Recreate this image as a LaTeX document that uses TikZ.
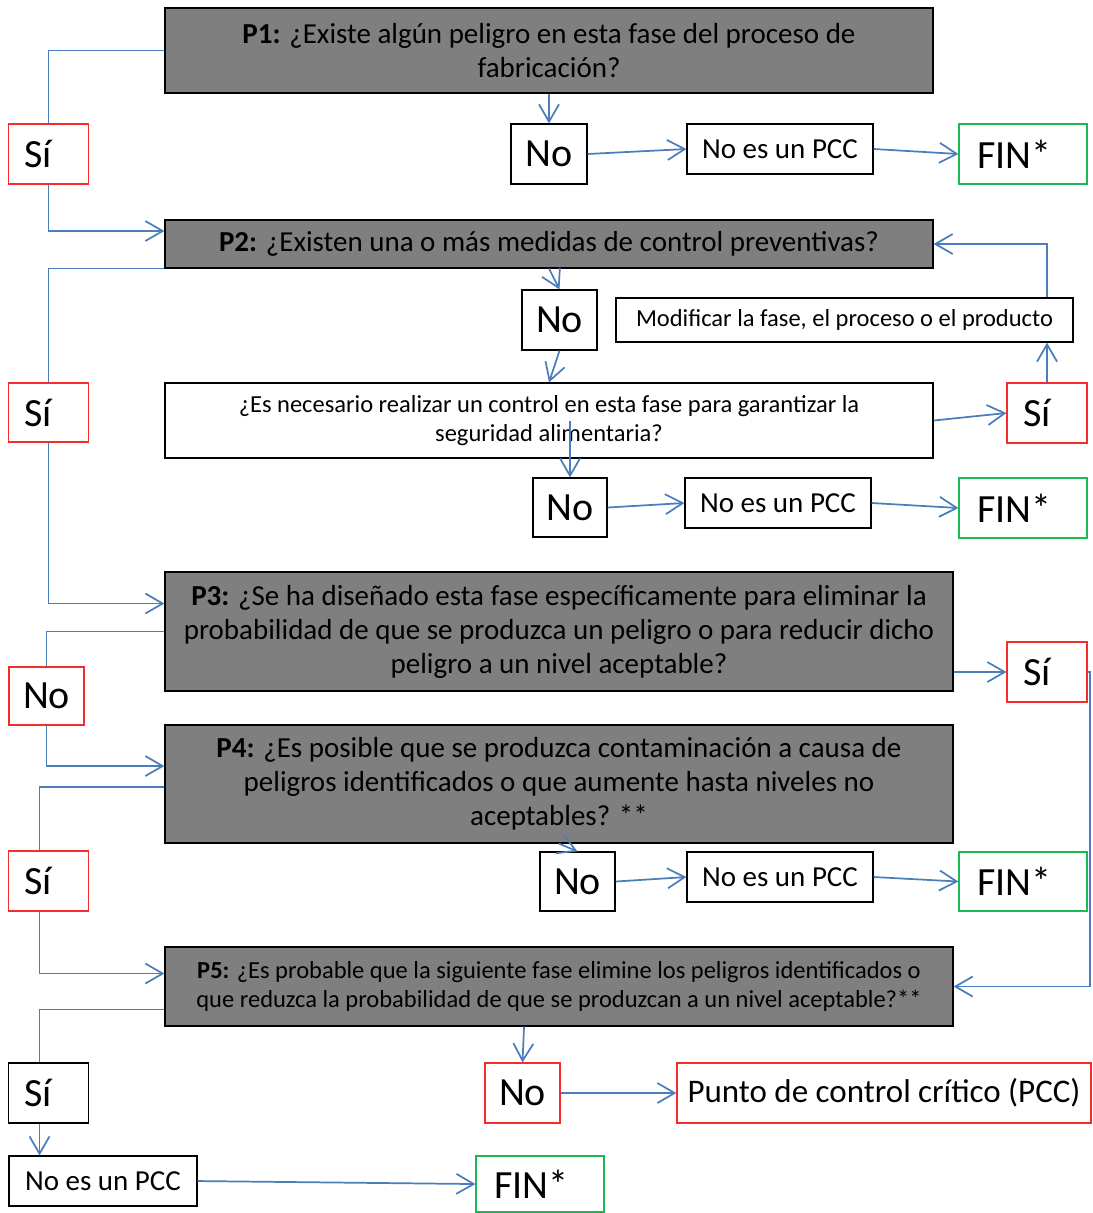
\documentclass[tikz,border=0pt]{standalone}
\usepackage{fontspec}
\setmainfont{Carlito}
\usetikzlibrary{arrows.meta}

\definecolor{linkblue}{HTML}{4A7EBB}
\definecolor{boxgray}{HTML}{7F7F7F}
\definecolor{yesred}{HTML}{F42C2C}
\definecolor{endgreen}{HTML}{1DB954}

\begin{document}
\begin{tikzpicture}[
        scale=0.75, transform shape, % coordinates below are in pixels
        x=1pt, y=-1pt,
        >={Straight Barb[length=13pt,width=15pt]},
        % gray question boxes
        qbox/.style={
            rectangle, draw=black, line width=1.2pt, fill=boxgray,
            align=center, inner sep=0pt,
            font=\fontsize{29}{34}\selectfont
        },
        % white boxes
        plainbox/.style={
            rectangle, draw=black, line width=1.2pt, fill=white,
            align=center, inner sep=0pt
        },
        yesbox/.style={plainbox, draw=yesred},
        endbox/.style={plainbox, draw=endgreen},
        big/.style={font=\fontsize{40}{46}\selectfont},
        mid/.style={font=\fontsize{29}{34}\selectfont},
        small/.style={font=\fontsize{24.5}{29}\selectfont},
        % left-set words in the small answer boxes
        sitext/.style={big, align=left, inner xsep=16pt, text width=48pt},
        fintext/.style={endbox, big, align=left, inner xsep=18pt, text width=92pt},
        link/.style={draw=linkblue, line width=1.3pt}
    ]

        \useasboundingbox (0,0) rectangle (1092,1213);

        % ==========================
        % P1
        % ==========================
        \node[qbox, minimum width=768pt, minimum height=85pt] (p1) at (549, 50.5)
            {\textbf{P1:} ¿Existe algún peligro en esta fase del proceso de\\fabricación?};
        \node[yesbox, sitext, minimum height=60pt] (si1)   at (48.5, 154) {Sí};
        \node[plainbox, big, minimum width=76pt, minimum height=60pt] (no1) at (549, 154)  {No};
        \node[plainbox, mid, minimum width=186pt, minimum height=50pt] (pcc1) at (780, 149) {No es un PCC};
        \node[fintext, minimum height=60pt] (fin1) at (1023, 154) {FIN*};

        \draw[link] (p1.west) -| (si1.north);
        \draw[link, ->] (p1.south) -- (no1.north);
        \draw[link, ->] (no1.east) -- (pcc1.west);
        \draw[link, ->] (pcc1.east) -- (fin1.west);

        % ==========================
        % P2
        % ==========================
        \node[qbox, minimum width=768pt, minimum height=48pt] (p2) at (549, 244)
            {\textbf{P2:} ¿Existen una o más medidas de control preventivas?};
        \node[plainbox, big, minimum width=75pt, minimum height=60pt] (no2) at (559.5, 320) {No};
        \node[plainbox, small, minimum width=457pt, minimum height=44pt] (mod) at (844.5, 320)
            {Modificar la fase, el proceso o el producto};
        \node[plainbox, small, minimum width=768pt, minimum height=75pt] (q) at (549, 420.5)
            {¿Es necesario realizar un control en esta fase para garantizar la\\seguridad alimentaria?};
        \node[yesbox, sitext, minimum height=59pt] (si2)   at (48.5, 412.5) {Sí};
        \node[yesbox, sitext, minimum height=60pt] (si2r)  at (1047, 413)  {Sí};
        \node[plainbox, big, minimum width=74pt, minimum height=59pt] (no3) at (570, 507.5) {No};
        \node[plainbox, mid, minimum width=186pt, minimum height=50pt] (pcc2) at (778, 503) {No es un PCC};
        \node[fintext, minimum height=60pt] (fin2) at (1023, 508) {FIN*};

        \draw[link, ->] (si1.south) |- ([yshift=13pt]p2.west);
        \draw[link] (p2.south west) -| (si2.north);
        \draw[link, ->] (p2.south) -- (no2.north);
        \draw[link, ->] (no2.south) -- (q.north);
        \draw[link, ->] (q.east) -- (si2r.west);
        \draw[link, ->] (si2r.north) -- (si2r.north |- mod.south);
        \draw[link, ->] (si2r.north |- mod.north) |- (p2.east);
        \draw[link, ->] (q.center -| no3.north) -- (no3.north);
        \draw[link, ->] (no3.east) -- (pcc2.west);
        \draw[link, ->] (pcc2.east) -- (fin2.west);

        % ==========================
        % P3
        % ==========================
        \node[qbox, minimum width=788pt, minimum height=119pt] (p3) at (559, 631.5)
            {\textbf{P3:} ¿Se ha diseñado esta fase específicamente para eliminar la\\
             probabilidad de que se produzca un peligro o para reducir dicho\\
             peligro a un nivel aceptable?};
        \node[yesbox, big, minimum width=75pt, minimum height=58pt] (no4) at (46.5, 696) {No};
        \node[yesbox, sitext, minimum height=60pt] (si3) at (1047, 672) {Sí};

        \draw[link, ->] (si2.south) |- ([yshift=28pt]p3.west);
        \draw[link] (p3.west) -| (no4.north);
        \draw[link, ->] (si3.west -| p3.east) -- (si3.west);

        % ==========================
        % P4
        % ==========================
        \node[qbox, minimum width=788pt, minimum height=118pt] (p4) at (559, 784)
            {\textbf{P4:} ¿Es posible que se produzca contaminación a causa de\\
             peligros identificados o que aumente hasta niveles no\\
             aceptables? **};
        \node[yesbox, sitext, minimum height=60pt] (si4)   at (48.5, 881) {Sí};
        \node[plainbox, big, minimum width=75pt, minimum height=59pt] (no5) at (577.5, 881.5) {No};
        \node[plainbox, mid, minimum width=186pt, minimum height=50pt] (pcc3) at (780, 877) {No es un PCC};
        \node[fintext, minimum height=59pt] (fin3) at (1023, 881.5) {FIN*};

        \draw[link, ->] (no4.south) |- ([yshift=18pt]p4.west);
        \draw[link] ([yshift=-3pt]p4.west) -| ([xshift=-9pt]si4.north);
        \draw[link, ->] (p4.south) -- (no5.north);
        \draw[link, ->] (no5.east) -- (pcc3.west);
        \draw[link, ->] (pcc3.east) -- (fin3.west);

        % ==========================
        % P5
        % ==========================
        \node[qbox, small, minimum width=788pt, minimum height=79pt] (p5) at (559, 986.5)
            {\textbf{P5:} ¿Es probable que la siguiente fase elimine los peligros identificados o\\
             que reduzca la probabilidad de que se produzcan a un nivel aceptable?**};
        \node[plainbox, sitext, minimum height=60pt] (si5) at (48.5, 1093) {Sí};
        \node[yesbox, big, minimum width=75pt, minimum height=60pt] (no6)   at (522.5, 1093) {No};
        \node[yesbox, font=\fontsize{33}{38}\selectfont, minimum width=414pt, minimum height=60pt] (ccp)
            at (884, 1093) {Punto de control crítico (PCC)};
        \node[plainbox, mid, minimum width=188pt, minimum height=50pt] (pcc4) at (103, 1181) {No es un PCC};
        \node[fintext, minimum height=56pt] (fin4) at (540, 1184) {FIN*};

        \draw[link, ->] ([xshift=-9pt]si4.south) |- ([yshift=13pt]p5.west);
        \draw[link, ->] (si3.east) -- ([xshift=2pt]si3.east) |- (p5.east);
        \draw[link] ([yshift=-23pt]p5.west) -| ([xshift=-9pt]si5.north);
        \draw[link, ->] ([xshift=-35pt]p5.south) -- (no6.north);
        \draw[link, ->] (no6.east) -- (ccp.west);
        \draw[link, ->] ([xshift=-9pt]si5.south) -- ([xshift=-9pt]si5.south |- pcc4.north);
        \draw[link, ->] (pcc4.east) -- (fin4.west);

\end{tikzpicture}
\end{document}
